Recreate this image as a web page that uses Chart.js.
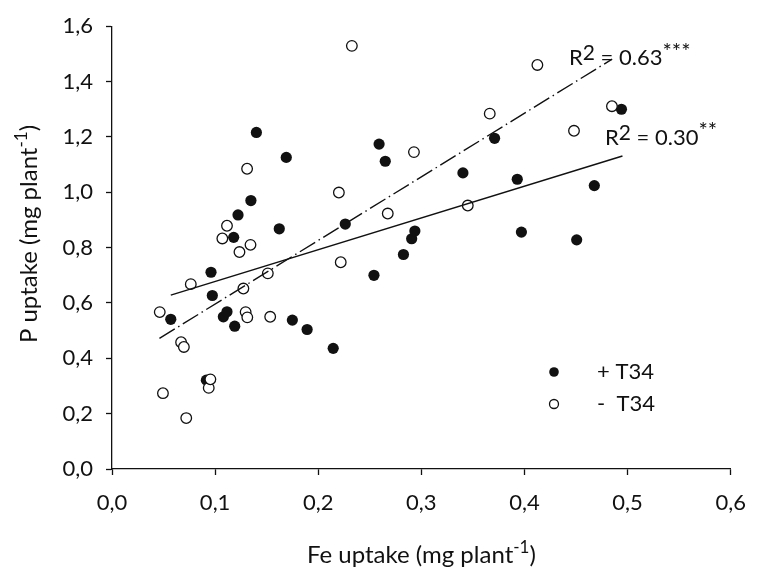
<!DOCTYPE html>
<html>
<head>
<meta charset="utf-8">
<script src="https://cdn.jsdelivr.net/npm/chart.js@4.4.1/dist/chart.umd.min.js"></script>
<style>
  html, body { margin: 0; padding: 0; background: #fff; }
</style>
</head>
<body>
<canvas id="chart" width="761" height="577"></canvas>
<script>
// tick values
const xTickValues = [0, 0.1, 0.2, 0.3, 0.4, 0.5, 0.6];
const yTickValues = [0, 0.2, 0.4, 0.6, 0.8, 1.0, 1.2, 1.4, 1.6];

// + T34 (filled circles)
const plusX = [0.057, 0.0915, 0.096, 0.0973, 0.108, 0.1115, 0.119, 0.118, 0.1222, 0.1347,
  0.140, 0.1622, 0.169, 0.1749, 0.1892, 0.2145, 0.2262, 0.254, 0.259, 0.265,
  0.2826, 0.2906, 0.2937, 0.3403, 0.371, 0.393, 0.397, 0.4506, 0.4677, 0.494];
const plusY = [0.541, 0.321, 0.711, 0.627, 0.550, 0.568, 0.516, 0.837, 0.918, 0.970,
  1.216, 0.868, 1.126, 0.538, 0.504, 0.436, 0.885, 0.700, 1.174, 1.112,
  0.775, 0.832, 0.860, 1.070, 1.195, 1.047, 0.856, 0.828, 1.024, 1.300];

// - T34 (open circles)
const minusX = [0.0463, 0.0494, 0.067, 0.0697, 0.072, 0.0764, 0.0938, 0.0954, 0.107, 0.1115,
  0.1236, 0.1274, 0.1296, 0.1312, 0.131, 0.1343, 0.1511, 0.1534, 0.220, 0.2218,
  0.2326, 0.2674, 0.2928, 0.345, 0.3663, 0.4125, 0.448, 0.4848];
const minusY = [0.567, 0.274, 0.458, 0.441, 0.184, 0.668, 0.293, 0.324, 0.833, 0.879,
  0.784, 0.652, 0.567, 0.548, 1.085, 0.810, 0.707, 0.550, 0.999, 0.747,
  1.529, 0.923, 1.145, 0.952, 1.284, 1.460, 1.222, 1.311];

// trend line end points
const plusTrendX = [0.057, 0.495];
const plusTrendY = [0.628, 1.131];
const minusTrendX = [0.046, 0.485];
const minusTrendY = [0.472, 1.481];

const FONT = 'Lato, "Open Sans", sans-serif';
const INK = '#111';

function pts(xs, ys) {
  return xs.map((x, i) => ({ x: x, y: ys[i] }));
}

function comma(v) {
  return Number(v).toFixed(1).replace('.', ',');
}

// draws a run of text pieces, each with its own size and raise
function drawRuns(ctx, x, y, runs) {
  let cx = x;
  runs.forEach(r => {
    ctx.font = r.size + 'px ' + FONT;
    ctx.fillText(r.text, cx, y - (r.rise || 0));
    cx += ctx.measureText(r.text).width;
  });
  return cx - x;
}

function runsWidth(ctx, runs) {
  let w = 0;
  runs.forEach(r => {
    ctx.font = r.size + 'px ' + FONT;
    w += ctx.measureText(r.text).width;
  });
  return w;
}

const annotations = {
  id: 'annotations',
  afterDraw(chart) {
    const ctx = chart.ctx;
    const area = chart.chartArea;
    ctx.save();
    ctx.fillStyle = INK;
    ctx.strokeStyle = INK;
    ctx.textBaseline = 'alphabetic';
    ctx.textAlign = 'left';

    // x axis title
    const xt = [
      { text: 'Fe uptake (mg plant', size: 24 },
      { text: '-1', size: 17, rise: 10 },
      { text: ')', size: 24 }
    ];
    const xw = runsWidth(ctx, xt);
    drawRuns(ctx, (area.left + area.right) / 2 - xw / 2, 563, xt);

    // y axis title
    const yt = [
      { text: 'P uptake (mg plant', size: 24 },
      { text: '-1', size: 17, rise: 10 },
      { text: ')', size: 24 }
    ];
    const yw = runsWidth(ctx, yt);
    ctx.save();
    ctx.translate(37, 234);
    ctx.rotate(-Math.PI / 2);
    drawRuns(ctx, -yw / 2, 0, yt);
    ctx.restore();

    // R squared labels
    drawRuns(ctx, 569, 65, [
      { text: 'R', size: 22 },
      { text: '2', size: 21, rise: 5 },
      { text: ' = 0.63', size: 22 },
      { text: '***', size: 22, rise: 6 }
    ]);
    drawRuns(ctx, 605, 145, [
      { text: 'R', size: 22 },
      { text: '2', size: 21, rise: 5 },
      { text: ' = 0.30', size: 22 },
      { text: '**', size: 22, rise: 7 }
    ]);

    // legend
    ctx.lineWidth = 1.3;
    ctx.beginPath();
    ctx.arc(554, 372, 4.8, 0, Math.PI * 2);
    ctx.fill();
    ctx.beginPath();
    ctx.arc(554, 404, 4.5, 0, Math.PI * 2);
    ctx.fillStyle = '#fff';
    ctx.fill();
    ctx.stroke();
    ctx.fillStyle = INK;
    ctx.font = '22px ' + FONT;
    ctx.textBaseline = 'middle';
    ctx.fillText('+ T34', 597, 372);
    ctx.fillText('-  T34', 597, 404);
    ctx.restore();
  }
};

function loadChart() {
  const ctx = document.getElementById('chart').getContext('2d');
  new Chart(ctx, {
    type: 'scatter',
    data: {
      datasets: [
        {
          label: 'trend - T34',
          data: pts(minusTrendX, minusTrendY),
          showLine: true,
          borderColor: INK,
          borderWidth: 1.4,
          borderDash: [18, 4, 1.5, 4],
          pointRadius: 0,
          fill: false
        },
        {
          label: 'trend + T34',
          data: pts(plusTrendX, plusTrendY),
          showLine: true,
          borderColor: INK,
          borderWidth: 1.4,
          pointRadius: 0,
          fill: false
        },
        {
          label: '- T34',
          data: pts(minusX, minusY),
          pointRadius: 5.3,
          pointBackgroundColor: '#fff',
          pointBorderColor: INK,
          pointBorderWidth: 1.3
        },
        {
          label: '+ T34',
          data: pts(plusX, plusY),
          pointRadius: 5.6,
          pointBackgroundColor: INK,
          pointBorderColor: INK,
          pointBorderWidth: 0
        }
      ]
    },
    options: {
      responsive: false,
      animation: false,
      layout: { padding: { top: 19, right: 18, left: 0, bottom: 0 } },
      plugins: {
        legend: { display: false },
        tooltip: { enabled: false }
      },
      scales: {
        x: {
          type: 'linear',
          min: 0,
          max: 0.6,
          afterBuildTicks: s => { s.ticks = xTickValues.map(v => ({ value: v })); },
          afterFit: s => { s.height = 108; },
          ticks: {
            callback: v => comma(v),
            font: { family: FONT, size: 22 },
            color: INK,
            padding: 15,
            maxRotation: 0
          },
          grid: {
            drawOnChartArea: false,
            tickLength: 6,
            tickColor: INK,
            tickWidth: 1.3
          },
          border: { color: INK, width: 1.3 }
        },
        y: {
          type: 'linear',
          min: 0,
          max: 1.6,
          afterBuildTicks: s => { s.ticks = yTickValues.map(v => ({ value: v })); },
          afterFit: s => { s.width = 112; },
          ticks: {
            callback: v => comma(v),
            font: { family: FONT, size: 22 },
            color: INK,
            padding: 13
          },
          grid: {
            drawOnChartArea: false,
            tickLength: 6,
            tickColor: INK,
            tickWidth: 1.3
          },
          border: { color: INK, width: 1.3 }
        }
      }
    },
    plugins: [annotations]
  });
}

window.onload = loadChart;
</script>
</body>
</html>
